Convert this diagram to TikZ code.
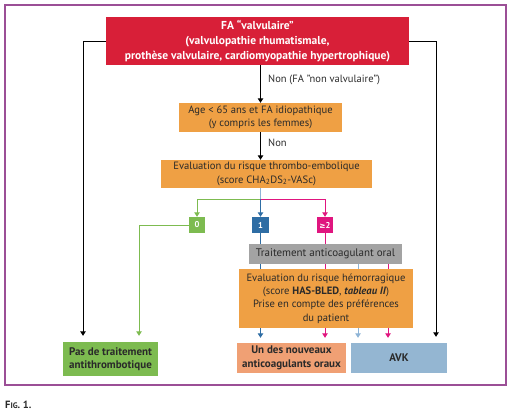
\documentclass[tikz,border=0pt]{standalone}
\usepackage{fontspec}
\setmainfont{PT Sans}
\newfontfamily\symfont{DejaVu Sans}
\usetikzlibrary{arrows.meta,backgrounds}
\definecolor{cred}{HTML}{D81F38}
\definecolor{corange}{HTML}{EFA044}
\definecolor{cgray}{HTML}{A3A3A3}
\definecolor{cgreen}{HTML}{7DBB50}
\definecolor{cblue}{HTML}{2E6DA4}
\definecolor{clblue}{HTML}{8EB4D6}
\definecolor{cpink}{HTML}{E0157F}
\definecolor{csalmon}{HTML}{F0A074}
\definecolor{cavk}{HTML}{94B6D2}
\definecolor{cframe}{HTML}{9B4F96}
\definecolor{ctext}{HTML}{2A2A2A}
\tikzset{
  box/.style={inner sep=0pt, align=center, font=\fontsize{10.6}{13.4}\selectfont, text=ctext},
  bbox/.style={box, font=\bfseries\fontsize{11}{13.4}\selectfont},
  numbox/.style={box, text=white, minimum width=16pt, minimum height=16pt, font=\bfseries\fontsize{8.5}{9}\selectfont},
  conn/.style={line width=0.9pt, -{Triangle[width=5.5pt,length=4.5pt]}},
  plainline/.style={line width=0.9pt},
  lbl/.style={font=\fontsize{10.5}{12}\selectfont, text=ctext, anchor=west, inner sep=0pt},
}
\begin{document}
\begin{tikzpicture}[x=1pt,y=-1pt]
\useasboundingbox (0,0) rectangle (510,418);
\draw[cframe, line width=1.3pt] (5,5) rectangle (506,385);
% nodes
\node[box, fill=cred, text=white, minimum width=303pt, minimum height=48pt, font=\bfseries\fontsize{11.5}{15}\selectfont] (red) at (257.5,41)
  {FA “valvulaire”\\(valvulopathie rhumatismale,\\prothèse valvulaire, cardiomyopathie hypertrophique)};
\node[box, fill=corange, minimum width=163pt, minimum height=29pt] (age) at (260.5,117.5)
  {Age < 65 ans et FA idiopathique\\(y compris les femmes)};
\node[box, fill=corange, minimum width=211pt, minimum height=28pt] (eval) at (266.5,174)
  {Evaluation du risque thrombo-embolique\\(score CHA\textsubscript{2}DS\textsubscript{2}-VASc)};
\node[numbox, fill=cgreen] (z0) at (197,225) {0};
\node[numbox, fill=cblue, minimum width=17pt] (z1) at (260.5,225) {1};
\node[numbox, fill=cpink] (z2) at (325,225) {{\symfont\fontsize{7.5}{9}\selectfont ≥}2};
\node[box, fill=cgray, minimum width=153pt, minimum height=20pt, font=\fontsize{11}{13}\selectfont] (gray) at (325.5,254) {Traitement anticoagulant oral};
\node[box, fill=corange, minimum width=174pt, minimum height=59pt] (hem) at (326,298.5)
  {Evaluation du risque hémorragique\\(score \textbf{HAS-BLED}, \textbf{\itshape tableau II})\\Prise en compte des préférences\\du patient};
\node[bbox, fill=cgreen, minimum width=95pt, minimum height=34pt] (none) at (110.5,359)
  {Pas de traitement\\antithrombotique};
\node[bbox, fill=csalmon, minimum width=109pt, minimum height=30pt] (noac) at (291.5,358)
  {Un des nouveaux\\anticoagulants oraux};
\node[bbox, fill=cavk, minimum width=96pt, minimum height=30pt] (avk) at (399,358) {AVK};
\node[anchor=west, inner sep=0pt, font=\bfseries\fontsize{10.5}{12}\selectfont, text=ctext] (fig) at (5,405) {F{\fontsize{8}{9}\selectfont IG}. 1.};
% coordinates for free ends
\coordinate (lx) at (83,0);
\coordinate (rx) at (436,0);
\coordinate (gx) at (139,0);
\coordinate (split) at (260.5,199);
\coordinate (bx) at (358,0);
\coordinate (px) at (388,0);
% labels
\node[lbl] (l1) at (268,80) {Non (FA "non valvulaire")};
\node[lbl] (l2) at (268,143) {Non};
\begin{scope}[on background layer]
\draw[conn, black] (red.south -| age.center) -- (age.north);
\draw[conn, black] (age.south) -- (eval.north -| age.center);
\draw[conn, black, shorten >=6pt] (red.west) -| (none.north -| lx);
\draw[conn, black, shorten >=6pt] (red.east) -| (avk.north -| rx);
\draw[plainline, clblue] (eval.south -| split) -- (split);
\draw[conn, cgreen] (split) -| (z0.north);
\draw[conn, cpink] (split) -| (z2.north);
\draw[conn, cblue] (split) -- (z1.north);
\draw[conn, cgreen, shorten >=6pt] (z0.west) -| (none.north -| gx);
\draw[conn, cblue, shorten >=5pt] (z1.south) -- (noac.north -| z1.center);
\draw[conn, cpink, shorten >=5pt] (z2.south) -- (noac.north -| z2.center);
\draw[conn, clblue, shorten >=5pt] (gray.south -| bx) -- (avk.north -| bx);
\draw[conn, cpink, shorten >=5pt] (gray.south -| px) -- (avk.north -| px);
\end{scope}
\end{tikzpicture}
\end{document}
